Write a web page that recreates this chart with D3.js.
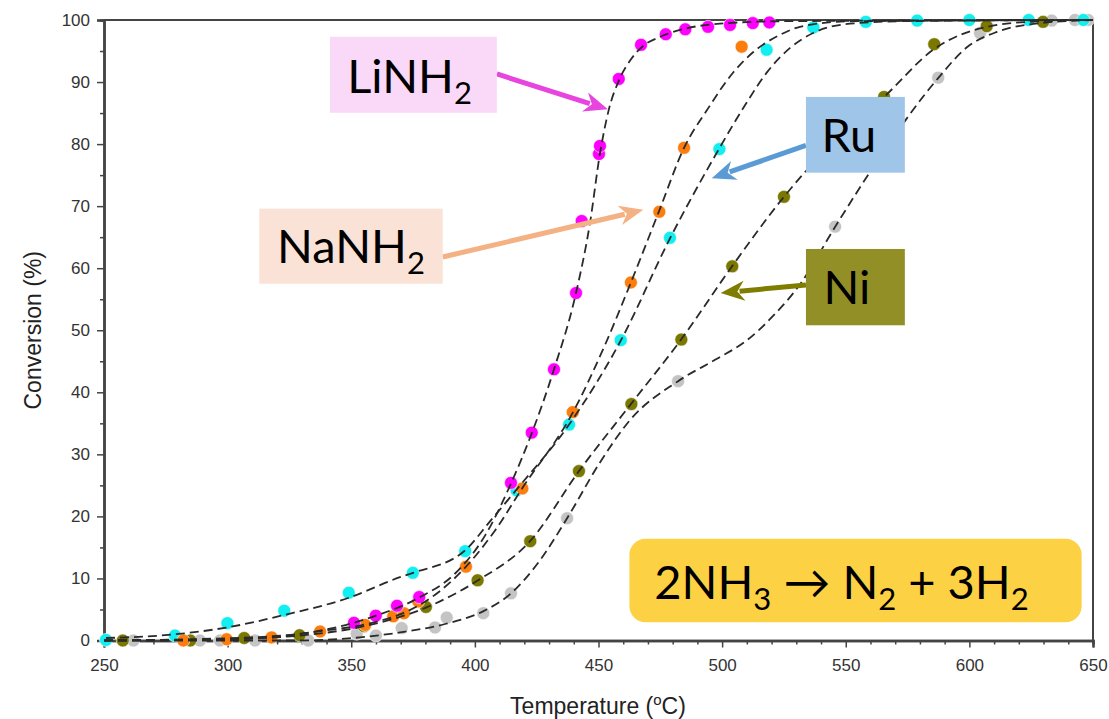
<!DOCTYPE html>
<html><head><meta charset="utf-8">
<script src="https://cdn.jsdelivr.net/npm/d3@7/dist/d3.min.js"></script>
<style>body{margin:0;background:#fff}</style>
</head><body>
<svg id="chart" width="1109" height="719"></svg>
<script>
// ---- data (temperature °C, conversion %) ----
const xTickValues = [250, 300, 350, 400, 450, 500, 550, 600, 650];
const yTickValues = [0, 10, 20, 30, 40, 50, 60, 70, 80, 90, 100];

const grayPoints = [[261.9,0],[288.8,0],[296.9,0],[311.1,0],[332.6,0],[352.2,1.1],[360,0.8],[370.4,2.0],[383.9,2.1],[388.6,3.7],[403.4,4.4],[414.6,7.6],[437.3,19.7],[482.2,41.8],[545.7,66.7],[587.4,90.7],[604.3,97.9],[633.3,99.9],[642.7,100],[648,100]];
const niPoints = [[257.6,0],[284.9,0],[306.7,0.4],[329.1,0.85],[355.2,2.3],[380.2,5.4],[401.1,9.7],[422.4,16.0],[442.1,27.3],[463.3,38.1],[483.5,48.5],[504.1,60.3],[525,71.5],[565.5,87.6],[585.8,96.1],[607,99.0],[629.8,99.7]];
const ruPoints = [[250.8,0.1],[278.7,0.8],[299.9,2.8],[322.9,4.8],[349,7.7],[374.9,10.9],[396.1,14.4],[416.9,24.2],[438.1,34.8],[459,48.4],[478.9,64.9],[498.9,79.2],[518,95.2],[536.9,98.8],[558.1,99.7],[578.9,99.9],[600,100],[624,100],[646.1,100]];
const naPoints = [[282.1,0],[299.6,0.2],[317.8,0.5],[337.4,1.45],[355.6,2.5],[367,3.9],[371.3,4.4],[377.1,6.3],[396.4,11.9],[419.2,24.5],[439.6,36.8],[463.1,57.7],[474.6,69.1],[484.6,79.4],[507.9,95.7]];
const liPoints = [[351.1,2.85],[359.9,4.0],[368.5,5.6],[377.5,7.0],[414.6,25.4],[423,33.5],[432,43.7],[440.9,56.0],[443.2,67.6],[450.2,78.4],[450.6,79.7],[458.2,90.5],[467.2,96.0],[477.2,97.7],[485.1,98.5],[494.3,98.9],[503.2,99.2],[512.4,99.5],[519.1,99.6]];

// fitted dashed curves
const liFit = [[250,0],[309,0.5],[341.4,1.9],[360,4.0],[377.4,6.9],[392,10.8],[404.1,16.9],[414.6,25.3],[423.1,33.5],[432,43.7],[440.9,56.0],[446.6,67.4],[450.6,78.5],[454.2,85.6],[458.3,90.3],[463,93.6],[468,95.8],[475,97.3],[485,98.6],[499.1,99.4],[523.4,99.8],[650,100]];
const naFit = [[250,0],[288.8,0.1],[317.9,0.5],[337.4,1.5],[355.6,2.6],[369.7,4.2],[381.9,6.8],[396.4,11.9],[408.1,17.7],[419.1,24.5],[439.7,36.8],[452.6,47.6],[463.1,57.7],[474.5,69.2],[484.6,79.4],[493.9,85.5],[504.4,91.5],[512.5,94.8],[523.4,97.6],[531.5,98.9],[551.7,99.8],[650,100]];
const ruFit = [[250.8,0.4],[278.7,1.0],[299.7,2.1],[322.8,4.1],[349.1,6.9],[369.7,10.2],[375,10.9],[396,14.5],[406.1,19.2],[416.6,24.2],[438.1,34.8],[459.1,48.4],[478.9,64.8],[498.7,79.2],[509.3,86.3],[518.2,91.6],[527.5,95.5],[536.8,97.9],[551.7,99.4],[571.9,99.8],[650,100]];
const niFit = [[250,0],[306.6,0.3],[329.3,0.8],[355.2,2.3],[380.2,5.3],[401.3,9.7],[422.3,16.0],[442.1,27.3],[463.1,38.1],[483.4,48.5],[504,60.3],[525,71.5],[543.6,79.8],[565.5,87.6],[585.7,95.3],[607.1,98.9],[628.6,99.8],[650,100]];
const grayFit = [[250,0],[329.3,0],[353.5,0.5],[369.7,1.3],[388.3,2.7],[403.3,4.7],[414.6,7.6],[426.3,12.9],[437.3,19.7],[450.6,28.7],[462.7,35.5],[482.2,41.8],[497.9,45.4],[510.1,48.4],[520.6,52.3],[531.5,57.4],[545.6,66.6],[563.8,77.9],[587.3,90.6],[599,95.6],[611.2,98.1],[628.6,99.5],[650,100]];

// ---- layout / styles ----
const svg = d3.select("#chart");
const x = d3.scaleLinear().domain([250, 650]).range([104, 1093]);
const y = d3.scaleLinear().domain([0, 100]).range([640.5, 20]);

const series = [
  {pts: grayPoints, color: "#c4c4c4"},
  {pts: niPoints, color: "#7a7800"},
  {pts: ruPoints, color: "#13eef0"},
  {pts: naPoints, color: "#fb7d0e"},
  {pts: liPoints, color: "#ff00ff"}
];
const fits = [grayFit, niFit, ruFit, naFit, liFit];

// axes
const axisColor = "#444";
svg.append("g").attr("transform", `translate(${x(250)},0)`)
  .call(d3.axisLeft(y).tickValues(yTickValues).tickSize(7).tickPadding(7));
svg.append("g").attr("transform", `translate(${x(250)},0)`)
  .call(d3.axisLeft(y).tickValues(d3.range(5, 100, 10)).tickSize(4).tickFormat(""));
svg.append("g").attr("transform", `translate(0,${y(0)})`)
  .call(d3.axisBottom(x).tickValues(xTickValues).tickSize(7).tickPadding(11));
svg.append("g").attr("transform", `translate(0,${y(0)})`)
  .call(d3.axisBottom(x).tickValues(d3.range(260, 650, 10).filter(v => v % 50 !== 0)).tickSize(4).tickFormat(""));
svg.selectAll(".domain").attr("stroke", axisColor).attr("stroke-width", 2.5);
svg.selectAll(".tick line").attr("stroke", axisColor).attr("stroke-width", 1.5);
svg.selectAll(".tick text").attr("font-family", "Liberation Sans, Arial, sans-serif")
  .attr("font-size", 17).attr("fill", "#333");
// top and right frame
svg.append("line").attr("x1", x(250)).attr("x2", x(650)).attr("y1", y(100)).attr("y2", y(100))
  .attr("stroke", axisColor).attr("stroke-width", 2);
svg.append("line").attr("x1", x(650)).attr("x2", x(650)).attr("y1", y(100)).attr("y2", y(0))
  .attr("stroke", axisColor).attr("stroke-width", 2);

// axis titles
svg.append("text").attr("transform", `translate(41,${(y(0)+y(100))/2}) rotate(-90)`)
  .attr("text-anchor", "middle").attr("font-family", "Liberation Sans, Arial, sans-serif")
  .attr("font-size", 23).attr("fill", "#222").text("Conversion (%)");
const xt = svg.append("text").attr("x", 598).attr("y", 714).attr("text-anchor", "middle")
  .attr("font-family", "Liberation Sans, Arial, sans-serif").attr("font-size", 23).attr("fill", "#222");
xt.append("tspan").text("Temperature (");
xt.append("tspan").attr("font-size", 15).attr("dy", -9).text("o");
xt.append("tspan").attr("dy", 9).text("C)");

// points
series.forEach(s => {
  svg.append("g").selectAll("circle").data(s.pts).join("circle")
    .attr("cx", d => x(d[0])).attr("cy", d => y(d[1])).attr("r", 6.5)
    .attr("fill", s.color).attr("stroke", "#fff").attr("stroke-width", 0.6);
});

// fitted curves
const line = d3.line().x(d => x(d[0])).y(d => y(d[1])).curve(d3.curveMonotoneX);
fits.forEach(f => {
  svg.append("path").datum(f).attr("d", line).attr("fill", "none")
    .attr("stroke", "#2a2a2a").attr("stroke-width", 1.8).attr("stroke-dasharray", "9,5");
});

// annotations (data coordinates)
const labelFont = "Lato, 'Open Sans', sans-serif";
const annotations = [
  {box: [341.4, 97.3, 408.9, 85.05], fill: "#fad9f8", tx: 373.6, ty: 88.2, parts: [["LiNH"], ["2", 1]],
   arrow: [[408.9, 91.3], [453.8, 85.6]], acolor: "#e845df"},
  {box: [312.8, 69.6, 387.0, 57.5], fill: "#fae3d6", tx: 349.9, ty: 60.8, parts: [["NaNH"], ["2", 1]],
   arrow: [[387.0, 61.8], [468.1, 69.4]], acolor: "#f4b183"},
  {box: [533.9, 87.6, 573.9, 75.4], fill: "#9fc5e8", tx: 551.3, ty: 78.8, parts: [["Ru"]],
   arrow: [[533.9, 79.8], [495.8, 74.5]], acolor: "#5b9bd5"},
  {box: [533.9, 63.1, 573.9, 50.8], fill: "#938f27", tx: 550.5, ty: 54.3, parts: [["Ni"]],
   arrow: [[533.9, 57.3], [499.4, 56.0]], acolor: "#7f7d00"}
];

function drawText(g, cx, cy, parts) {
  const t = g.append("text").attr("x", cx).attr("y", cy).attr("text-anchor", "middle")
    .attr("font-family", labelFont).attr("font-size", 47).attr("fill", "#000");
  let down = false;
  parts.forEach(p => {
    const ts = t.append("tspan").text(p[0]);
    if (p[1] && !down) { ts.attr("font-size", 31).attr("dy", 11); down = true; }
    else if (!p[1] && down) { ts.attr("dy", -11); down = false; }
  });
}

function drawArrow(g, a, color) {
  const x1 = x(a[0][0]), y1 = y(a[0][1]), x2 = x(a[1][0]), y2 = y(a[1][1]);
  const ang = Math.atan2(y2 - y1, x2 - x1);
  const hl = 24, hw = 10;
  const bx = x2 - hl * Math.cos(ang), by = y2 - hl * Math.sin(ang);
  g.append("line").attr("x1", x1).attr("y1", y1).attr("x2", bx + 5*Math.cos(ang)).attr("y2", by + 5*Math.sin(ang))
    .attr("stroke", color).attr("stroke-width", 5);
  const px = -Math.sin(ang), py = Math.cos(ang);
  g.append("path").attr("d", `M${x2},${y2}L${bx + hw*px},${by + hw*py}L${bx + 0.3*hl*Math.cos(ang)},${by + 0.3*hl*Math.sin(ang)}L${bx - hw*px},${by - hw*py}Z`)
    .attr("fill", color);
}

const ag = svg.append("g");
annotations.forEach(a => {
  drawArrow(ag, a.arrow, a.acolor);
  ag.append("rect").attr("x", x(a.box[0])).attr("y", y(a.box[1]))
    .attr("width", x(a.box[2]) - x(a.box[0])).attr("height", y(a.box[3]) - y(a.box[1]))
    .attr("fill", a.fill);
  drawText(ag, x(a.tx), y(a.ty), a.parts);
});

// reaction box
const eq = {box: [462.5, 16.4, 645.4, 2.95], tx: 548.3, ty: 6.7};
ag.append("rect").attr("x", x(eq.box[0])).attr("y", y(eq.box[1]))
  .attr("width", x(eq.box[2]) - x(eq.box[0])).attr("height", y(eq.box[3]) - y(eq.box[1]))
  .attr("rx", 16).attr("fill", "#fdd144");
drawText(ag, x(eq.tx), y(eq.ty), [["2NH"], ["3", 1], [" \u2192 N"], ["2", 1], [" + 3H"], ["2", 1]]);
</script>
</body></html>
